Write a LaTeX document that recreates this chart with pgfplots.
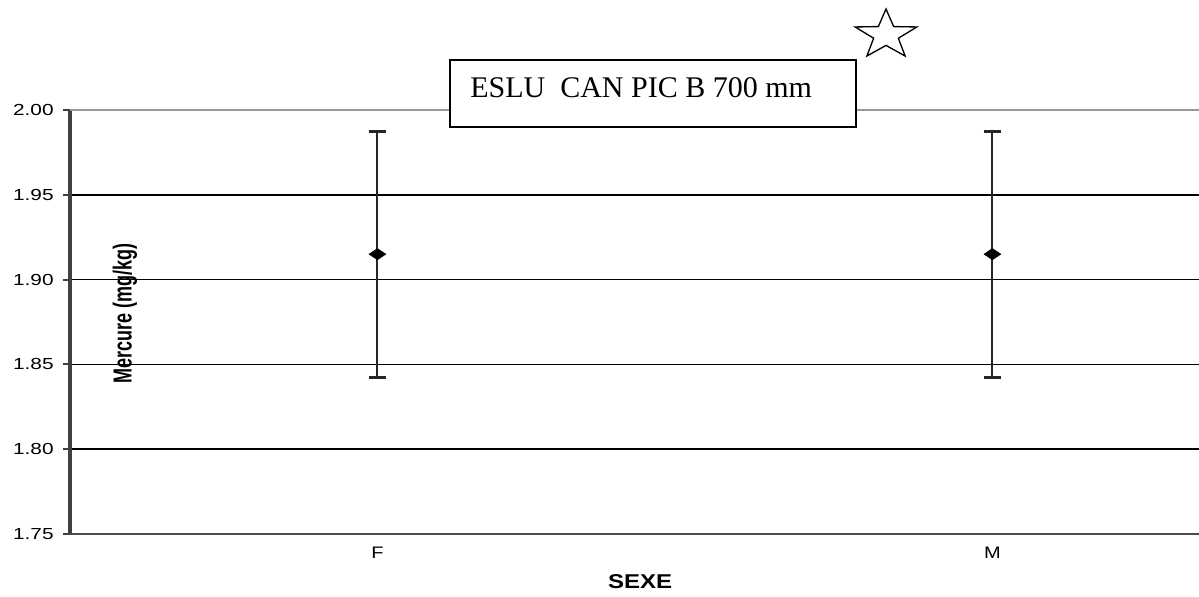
\documentclass[border=0pt]{standalone}
\usepackage{pgfplots}
\pgfplotsset{compat=1.18}
\usepackage{fontspec}
\setmainfont{Liberation Sans}
\newfontfamily\timesf{Liberation Serif}
\usetikzlibrary{shapes.geometric}
\begin{document}
\begin{tikzpicture}
\path[use as bounding box] (0,0) rectangle (899.25pt,447pt);
\begin{axis}[
  at={(52.5pt,46.5pt)}, anchor=south west,
  scale only axis, width=846.75pt, height=318pt,
  xmin=0, xmax=1.836, ymin=1.75, ymax=2.0,
  axis x line*=bottom, axis y line*=left,
  x axis line style={draw=black!70, line width=2pt},
  y axis line style={draw=black!75, line width=2.4pt},
  ytick={1.75,1.80,1.85,1.90,1.95,2.00},
  yticklabels={\scalebox{1.3}[1]{1.75},\scalebox{1.3}[1]{1.80},\scalebox{1.3}[1]{1.85},\scalebox{1.3}[1]{1.90},\scalebox{1.3}[1]{1.95},\scalebox{1.3}[1]{2.00}},
  yticklabel style={font=\fontsize{12}{14}\selectfont, xshift=-3.5pt},
  ytick style={draw=black!75, line width=1.4pt},
  tick align=outside, major tick length=5.25pt,
  ymajorgrids, grid style={black, line width=1.2pt},
  xtick={0.5,1.5}, xticklabels={\scalebox{1.2}[1]{F},\scalebox{1.2}[1]{M}},
  xticklabel style={font=\fontsize{12.5}{14}\selectfont, yshift=-1pt},
  xtick style={draw=none},
  extra x ticks={1}, extra x tick labels={},
  extra x tick style={tick style={draw=black, line width=2pt}, major tick length=4pt},
  xlabel={\scalebox{1.2}[1]{\bfseries SEXE}},
  xlabel style={font=\fontsize{15}{17}\selectfont, at={(axis description cs:0.505,-0.113)}, anchor=center},
  ylabel={\scalebox{1}[1.45]{\bfseries Mercure (mg/kg)}},
  ylabel style={font=\fontsize{13.5}{15}\selectfont, at={(axis description cs:0.0487,0.521)}, anchor=center},
  clip=false,
]
\draw[black!40, line width=1.4pt] (axis cs:0,2) -- (axis cs:1.836,2);
\addplot[black, only marks, mark=diamond*, mark size=4.2pt, mark options={xscale=2.0},
  error bars/.cd, y dir=both, y explicit,
  error bar style={line width=1.5pt, black!85},
  error mark options={rotate=90, mark size=6.4pt, line width=2.4pt, black!85}]
  coordinates {(0.5,1.915) +- (0,0.0725) (1.5,1.915) +- (0,0.0725)};
\end{axis}
\begin{scope}[x=0.75pt, y=-0.75pt, shift={(0,447pt)}]
\draw[line width=1.3pt, fill=white] (450,60) rectangle (856,127);
\node[anchor=base west, inner sep=0, font=\timesf\fontsize{22.5}{26}\selectfont] at (470,98) {ESLU\ \ CAN PIC B 700 mm};
\node[star, star points=5, star point ratio=2.5, draw, line width=1pt, minimum size=39pt, inner sep=0, xscale=1.25] at (886,35) {};
\end{scope}
\end{tikzpicture}
\end{document}
